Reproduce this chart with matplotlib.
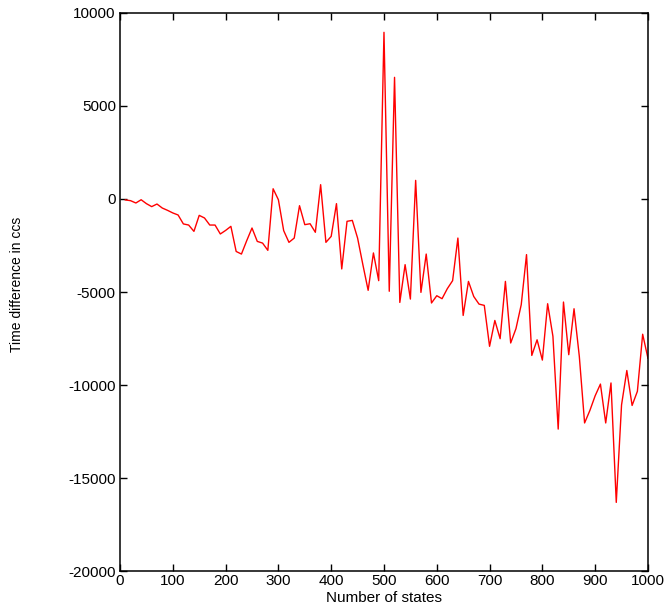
import matplotlib
matplotlib.use("Agg")
import matplotlib.pyplot as plt

plt.rcParams['font.family'] = ['Liberation Sans', 'DejaVu Sans']
plt.rcParams['axes.unicode_minus'] = False

# number of states
states = list(range(10, 1001, 10))

# time difference in ccs
time_diff = [
    -50, -90, -215, -40, -250, -410, -270, -485, -610, -750,
    -860, -1340, -1400, -1740, -880, -1020, -1400, -1400, -1880, -1690,
    -1470, -2820, -2960, -2240, -1560, -2280, -2370, -2760, 550, -40,
    -1700, -2330, -2100, -360, -1380, -1330, -1790, 770, -2330, -2010,
    -250, -3760, -1200, -1150, -2100, -3530, -4910, -2900, -4390, 8960,
    -4960, 6540, -5560, -3530, -5380, 1000, -5020, -2960, -5590, -5200,
    -5360, -4820, -4390, -2100, -6260, -4430, -5240, -5650, -5720, -7920,
    -6530, -7510, -4430, -7740, -6970, -5680, -2990, -8410, -7570, -8660,
    -5630, -7380, -12370, -5540, -8370, -5900, -8460, -12040, -11370, -10580,
    -9950, -12040, -9890, -16310, -11070, -9220, -11100, -10340, -7270, -8560,
]

xticks = list(range(0, 1001, 100))
yticks = list(range(-20000, 10001, 5000))

fig = plt.figure(figsize=(6.72, 6.04), dpi=100)
ax = fig.add_axes([0.1786, 0.0546, 0.7856, 0.9239])

ax.plot(states, time_diff, color='#ff0000', linewidth=1.0)

ax.set_xlim(0, 1000)
ax.set_ylim(-20000, 10000)
ax.set_xticks(xticks)
ax.set_yticks(yticks)
ax.tick_params(direction='in', top=True, right=True, length=5, width=1,
               labelsize=11)
ax.tick_params(axis='x', pad=2)
ax.tick_params(axis='y', pad=3)
for s in ax.spines.values():
    s.set_linewidth(1.1)

ax.set_xlabel('Number of states', fontsize=11, labelpad=2)
ax.set_ylabel('Time difference in ccs', fontsize=10)
ax.yaxis.set_label_coords(-0.182, 0.514)

fig.savefig('out.png', dpi=100)
